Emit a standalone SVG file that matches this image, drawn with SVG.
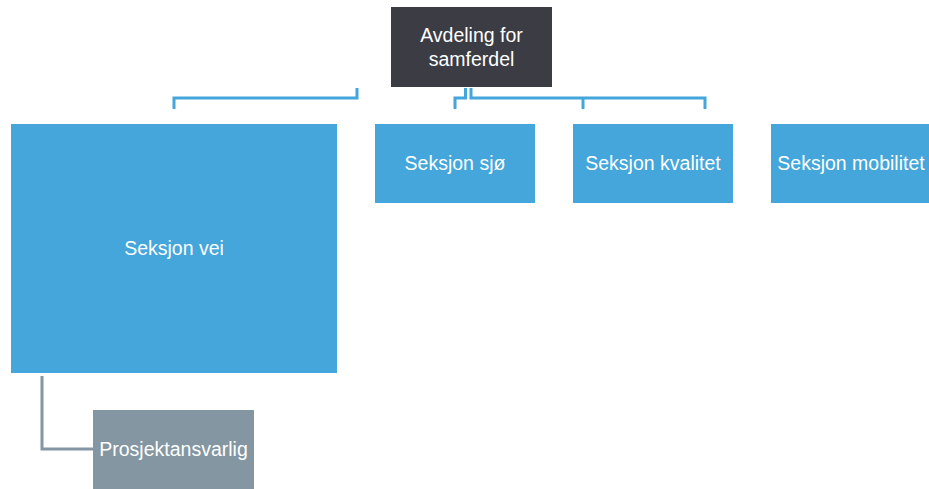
<svg xmlns="http://www.w3.org/2000/svg" width="929" height="489" viewBox="0 0 929 489">
<style>
.blue{fill:#44a6da}
.dark{fill:#3c3c44}
.gray{fill:#8496a1}
text{font-family:"Liberation Sans",Arial,sans-serif;font-size:19.5px;fill:#ffffff;text-anchor:middle;dominant-baseline:central}
.c{fill:none;stroke:#44a6da;stroke-width:3}
.cg{fill:none;stroke:#8496a1;stroke-width:3}
</style>
<rect width="929" height="489" fill="#ffffff"/>
<g id="connectors">
<path class="c" d="M357,88 V98 H174 V109"/>
<path class="c" d="M465.5,88 V98 H455 V109"/>
<path class="c" d="M471,88 V98 H705 V109"/>
<path class="c" d="M583,98 V109"/>
<path class="cg" d="M42,376 V449 H93"/>
</g>
<g id="avdeling">
<rect class="dark" x="391" y="7" width="161" height="80"/>
<text x="471.5" y="35">Avdeling for</text>
<text x="471.5" y="59">samferdel</text>
</g>
<g id="vei">
<rect class="blue" x="11" y="124" width="326" height="249"/>
<text x="174" y="248">Seksjon vei</text>
</g>
<g id="sjo">
<rect class="blue" x="375" y="124" width="160" height="79"/>
<text x="455" y="163">Seksjon sjø</text>
</g>
<g id="kvalitet">
<rect class="blue" x="573" y="124" width="160" height="79"/>
<text x="653" y="163">Seksjon kvalitet</text>
</g>
<g id="mobilitet">
<rect class="blue" x="771" y="124" width="160" height="79"/>
<text x="851" y="163">Seksjon mobilitet</text>
</g>
<g id="prosjektansvarlig">
<rect class="gray" x="93" y="410" width="161" height="79"/>
<text x="173.5" y="449">Prosjektansvarlig</text>
</g>
</svg>
